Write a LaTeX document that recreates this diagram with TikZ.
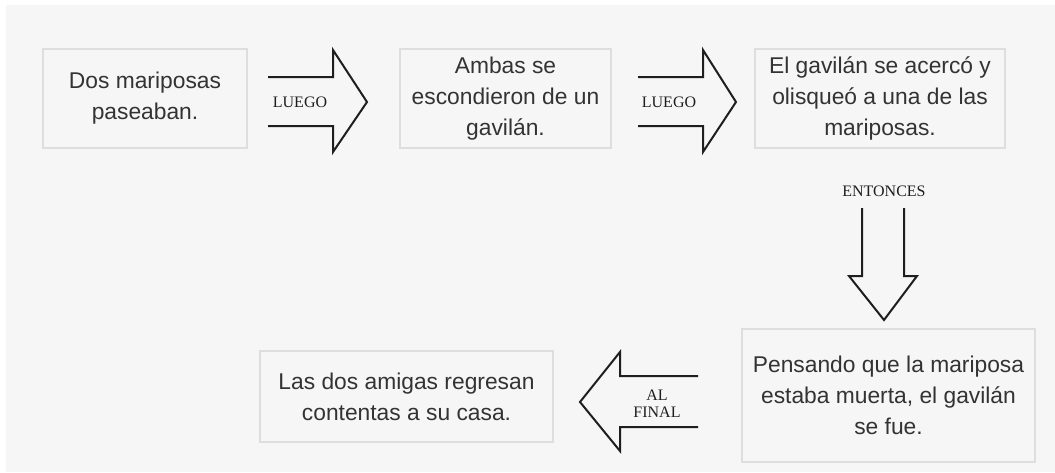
\documentclass[tikz,border=0pt]{standalone}
\usepackage{fontspec}
\setmainfont{Liberation Sans}
\newfontfamily\labelfont{Liberation Serif}
\definecolor{bggray}{HTML}{F6F6F6}
\definecolor{boxline}{HTML}{DEDEDE}
\definecolor{txt}{HTML}{333333}
\definecolor{arrowc}{HTML}{1E1E1E}
\begin{document}
\begin{tikzpicture}[x=1pt,y=-1pt,
  storybox/.style={draw=boxline, line width=1.5pt, fill=bggray, text=txt, align=center,
    font=\fontsize{22.8}{31}\selectfont, inner sep=0pt},
  bigarrow/.style={draw=arrowc, line width=2pt, line join=miter},
  lbl/.style={font=\labelfont\fontsize{16}{17}\selectfont, text=arrowc, align=center, inner sep=0pt, anchor=base}]
\useasboundingbox (0,0) rectangle (1055,472);
\fill[white] (0,0) rectangle (1055,472);
\fill[bggray] (6,5) rectangle (1055,472);
% boxes
\node[storybox, minimum width=204pt, minimum height=99pt] (b1) at (145,98.5) {Dos mariposas\\paseaban.};
\node[storybox, minimum width=211pt, minimum height=99pt] (b2) at (505.5,98.5) {Ambas se\\escondieron de un\\gavilán.};
\node[storybox, minimum width=250pt, minimum height=99pt] (b3) at (880,98.5) {El gavilán se acercó y\\olisqueó a una de las\\mariposas.};
\node[storybox, minimum width=293pt, minimum height=133pt] (b4) at (888.5,395.5) {Pensando que la mariposa\\estaba muerta, el gavilán\\se fue.};
\node[storybox, minimum width=293pt, minimum height=91pt] (b5) at (406.5,396.5) {Las dos amigas regresan\\contentas a su casa.};
% arrow 1
\draw[bigarrow] (268,77) -- (333,77) -- (333,50) -- (367,102) -- (333,152) -- (333,126) -- (268,126);
\node[lbl] (l1) at (300,107) {LUEGO};
% arrow 2
\draw[bigarrow] (638,77) -- (703,77) -- (703,50) -- (736,102) -- (703,152) -- (703,126) -- (638,126);
\node[lbl] (l2) at (669,107) {LUEGO};
% arrow 3 (down)
\node[lbl] (l3) at (884,196) {ENTONCES};
\draw[bigarrow] (862,208) -- (862,276) -- (849,276) -- (884,320) -- (917,276) -- (904,276) -- (904,208);
% arrow 4 (left)
\draw[bigarrow] (698,376) -- (620,376) -- (620,352) -- (580,402) -- (620,451) -- (620,427) -- (698,427);
\node[lbl] (l4a) at (657,400) {AL};
\node[lbl] (l4b) at (657,417) {FINAL};
\end{tikzpicture}
\end{document}
